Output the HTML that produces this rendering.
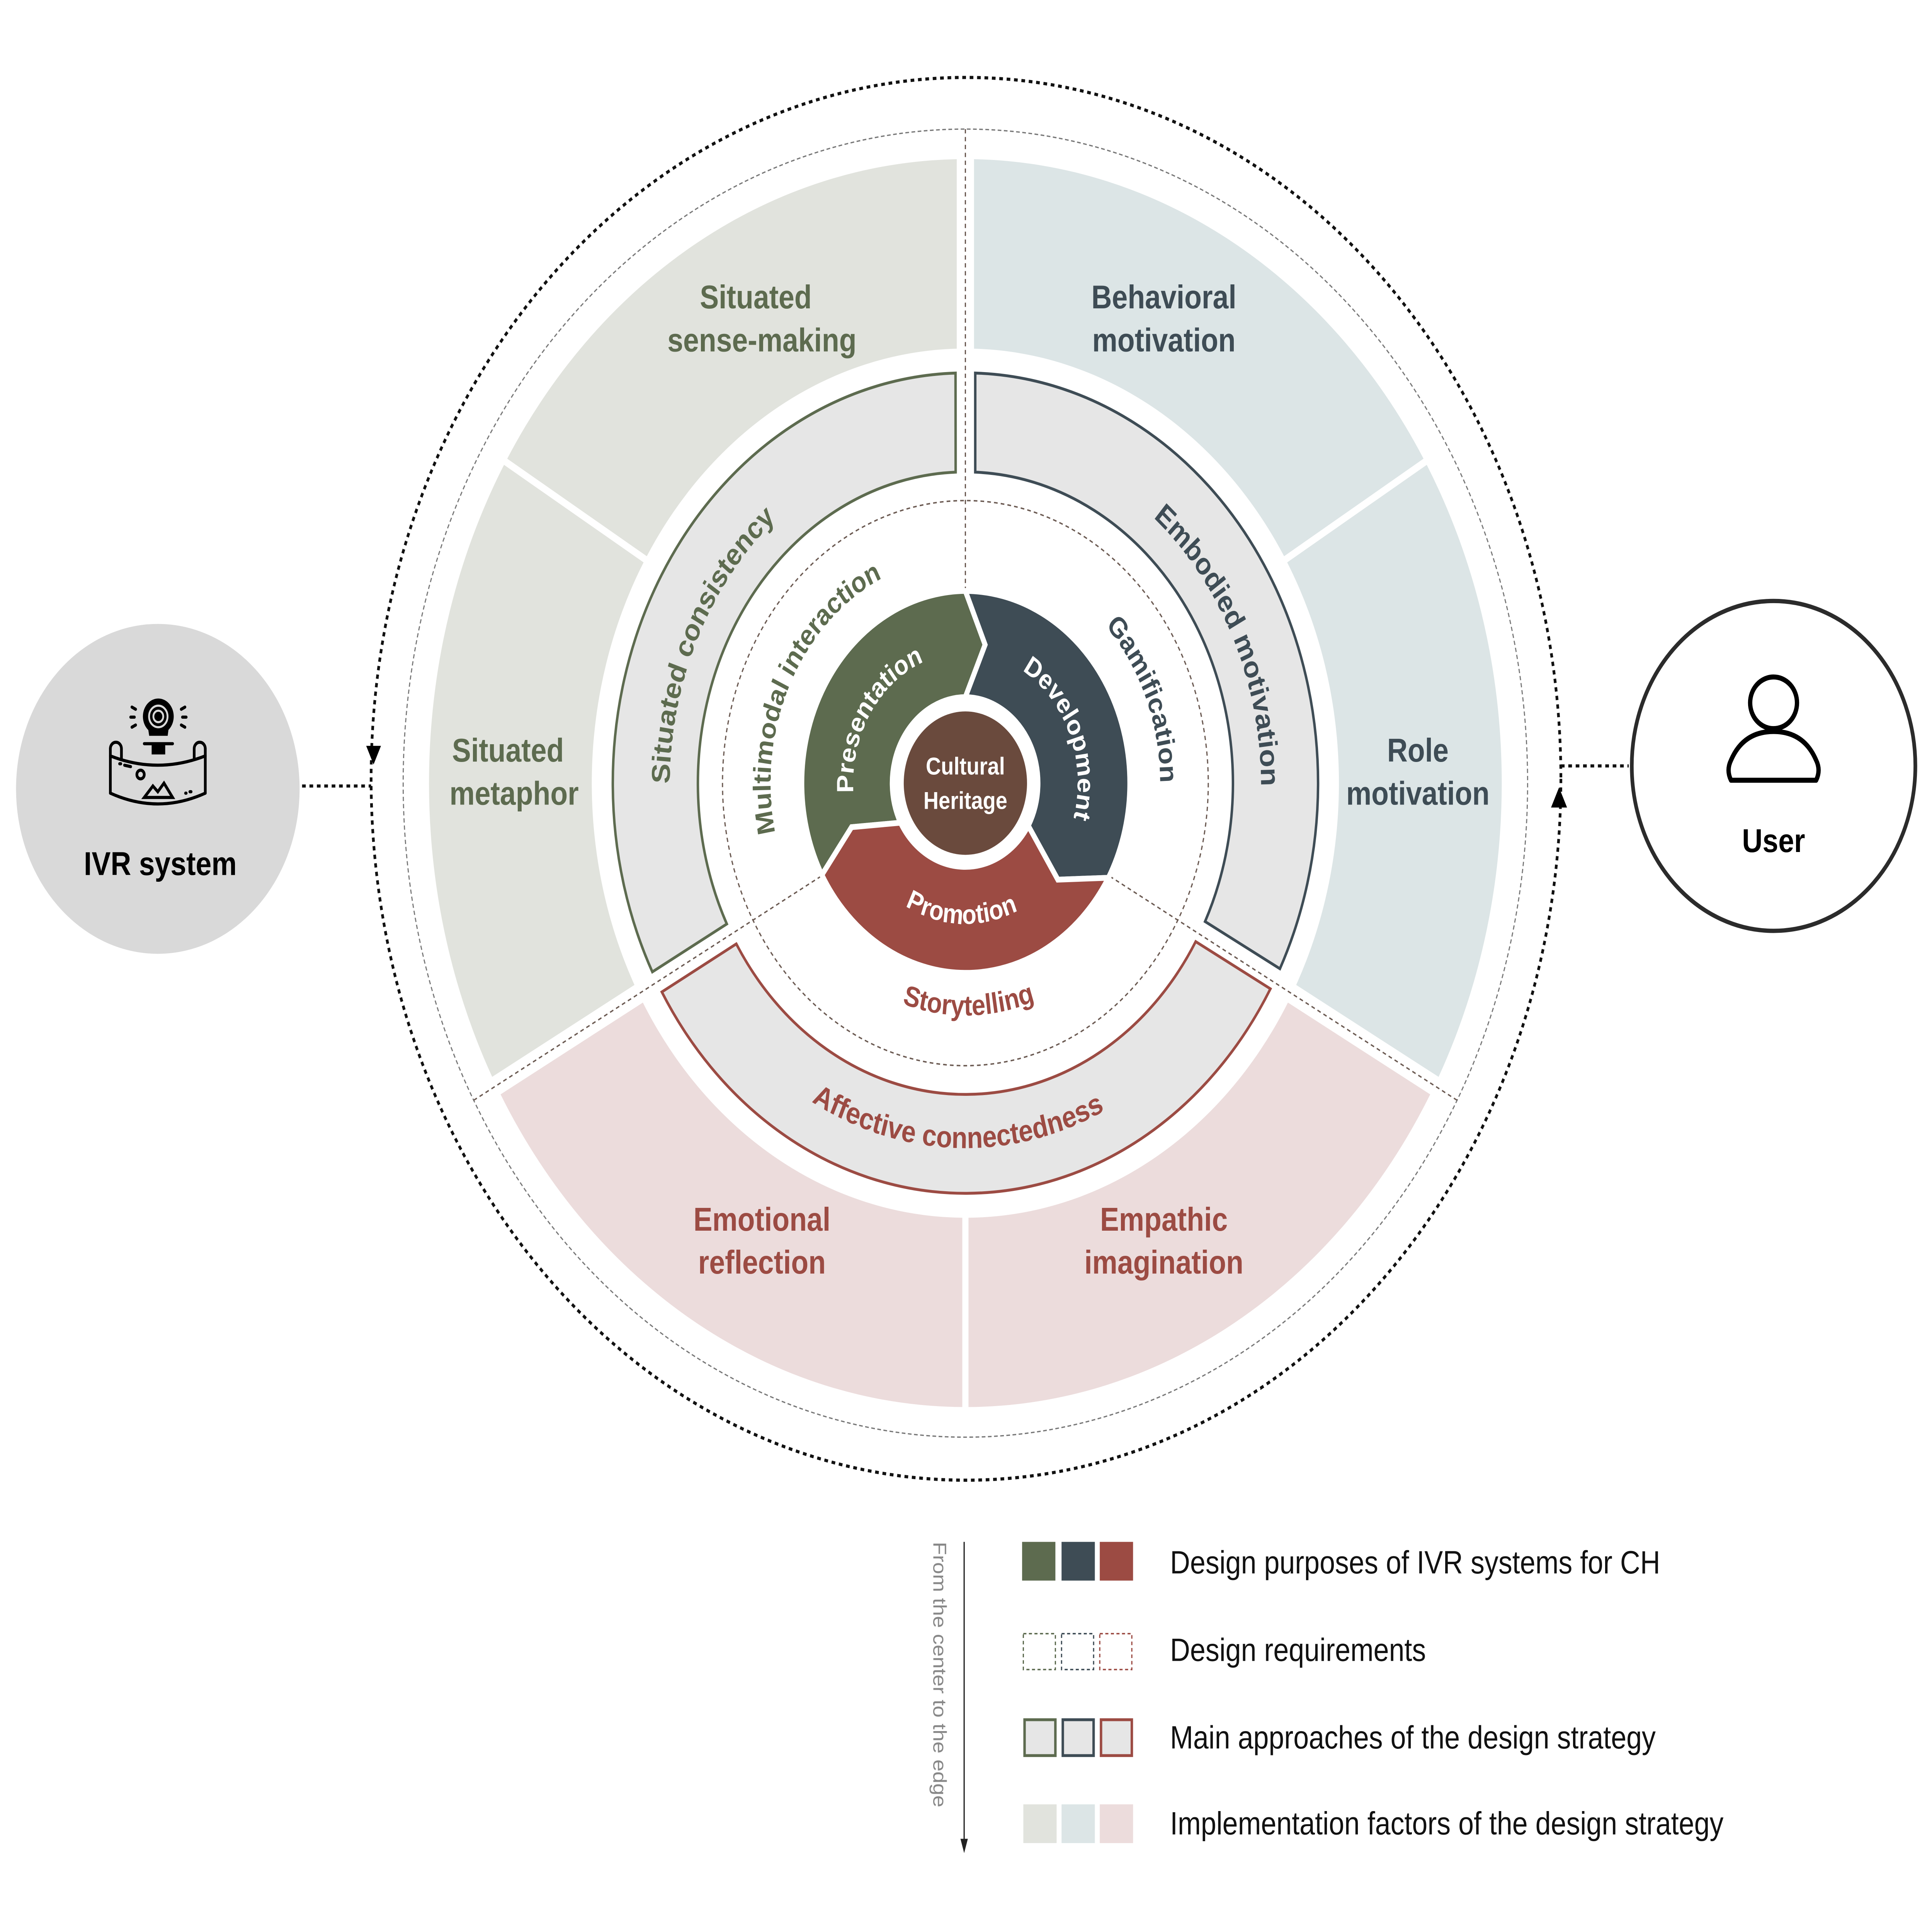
<!DOCTYPE html>
<html><head><meta charset="utf-8"><style>
html,body{margin:0;padding:0;background:#fff;width:100%;height:100%;overflow:hidden;}
svg{display:block;width:100vw;height:100vh;}
text{font-family:"Liberation Sans",sans-serif;}
</style></head><body>
<svg viewBox="0 0 1567 1347" preserveAspectRatio="none" xmlns="http://www.w3.org/2000/svg">
<rect width="1567" height="1347" fill="#fff"/>
<ellipse cx="783.5" cy="543" rx="482.5" ry="489" fill="none" stroke="#111" stroke-width="2.2" stroke-dasharray="3 3"/>
<circle cx="783" cy="546" r="456" fill="none" stroke="#777" stroke-width="0.9" stroke-dasharray="3 2"/>
<path d="M399.2,750.8 A435 435 0 0 1 408.8,324.1 L522.0,392.1 A303 303 0 0 0 514.6,686.7 Z" fill="#e1e3dd"/>
<path d="M411.4,319.8 A435 435 0 0 1 776,111 L776,243.1 A303 303 0 0 0 524.6,387.8 Z" fill="#e1e3dd"/>
<path d="M790,111 A435 435 0 0 1 1154.6,319.8 L1041.5,387.8 A303 303 0 0 0 790,243.1 Z" fill="#dce5e6"/>
<path d="M1157.2,324.1 A435 435 0 0 1 1166.8,750.8 L1051.3,686.7 A303 303 0 0 0 1044,392.1 Z" fill="#dce5e6"/>
<path d="M1160,763 A435 435 0 0 1 785.5,981 L785.5,849 A303 303 0 0 0 1044.6,699 Z" fill="#ecdcdc"/>
<path d="M780.5,981 A435 435 0 0 1 406,763 L521.4,699 A303 303 0 0 0 780.5,849 Z" fill="#ecdcdc"/>
<path d="M775,260.1 A286 286 0 0 0 529.1,677.6 L589.5,644.2 A217 217 0 0 1 775.1,329.2 Z" fill="#e6e6e6" stroke="#5d6b4f" stroke-width="2"/>
<path d="M791,260.1 A286 286 0 0 1 1038.1,675.4 L977.4,642.5 A217 217 0 0 0 791,329.2 Z" fill="#e6e6e6" stroke="#3e4c55" stroke-width="2"/>
<path d="M1030.4,689.4 A286 286 0 0 1 536.8,691.6 L597.2,658.1 A217 217 0 0 0 969.8,656.5 Z" fill="#e6e6e6" stroke="#9c4b43" stroke-width="2"/>
<circle cx="783" cy="546" r="215" fill="#fff"/>
<circle cx="783" cy="546" r="197" fill="none" stroke="#6b5a52" stroke-width="1" stroke-dasharray="3 2.5"/>
<g stroke="#6b5a52" stroke-width="1" stroke-dasharray="3 2.5">
<line x1="783" y1="412" x2="783" y2="90"/>
<line x1="665.8" y1="611" x2="384.2" y2="767.1"/>
<line x1="900.2" y1="611" x2="1181.8" y2="767.1"/>
</g>
<g stroke="#fff" stroke-width="4" stroke-linejoin="miter">
<path d="M783,412 L799,449.5 L783,486 A60 60 0 0 0 730.4,573.6 L690.7,576.7 L666.6,610 A134 134 0 0 1 783,412 Z" fill="#5d6b4f"/>
<path d="M783,412 A134 134 0 0 1 899,612 L858,613.3 L834,575.7 A60 60 0 0 0 783,486 L799,449.5 Z" fill="#3e4c55"/>
<path d="M834,575.7 L858,613.3 L899,612 A134 134 0 0 1 666.6,610 L690.7,576.7 L730.4,573.6 A60 60 0 0 0 834,575.7 Z" fill="#9c4b43"/>
</g>
<circle cx="783" cy="546" r="58" fill="#fff"/>
<circle cx="783" cy="546" r="50" fill="#6a4a3d"/>
<text x="783" y="540" font-size="17" font-weight="bold" fill="#fff" text-anchor="middle">Cultural</text>
<text x="783" y="564" font-size="17" font-weight="bold" fill="#fff" text-anchor="middle">Heritage</text>
<defs>
<path id="p1" d="M679.9,767.1 A244 244 0 0 1 886.1,324.9"/>
<path id="p2" d="M679.9,324.9 A244 244 0 0 1 886.1,767.1"/>
<path id="p3" d="M526.1,539.3 A257 257 0 0 0 1039.9,552.7"/>
<path id="p4" d="M713.7,688 A158 158 0 0 1 852.3,404"/>
<path id="p5" d="M723.8,399.5 A158 158 0 0 1 842.2,692.5"/>
<path id="p6" d="M621,548.8 A162 162 0 0 0 945,543.2"/>
<path id="p7" d="M734.8,623.2 A91 91 0 0 1 831.2,468.8"/>
<path id="p8" d="M748.9,461.6 A91 91 0 0 1 817.1,630.4"/>
<path id="p9" d="M682.1,542.5 A101 101 0 0 0 883.9,549.5"/>
</defs>
<g font-weight="bold" text-anchor="middle">
<text font-size="21" fill="#5d6b4f"><textPath href="#p1" startOffset="50%">Situated  consistency</textPath></text>
<text font-size="21" fill="#3e4c55"><textPath href="#p2" startOffset="50%">Embodied  motivation</textPath></text>
<text font-size="21" fill="#9c4b43"><textPath href="#p3" startOffset="50%">Affective connectedness</textPath></text>
<text font-size="20" fill="#5d6b4f"><textPath href="#p4" startOffset="50%">Multimodal interaction</textPath></text>
<text font-size="20" fill="#3e4c55"><textPath href="#p5" startOffset="50%">Gamification</textPath></text>
<text font-size="20" fill="#9c4b43"><textPath href="#p6" startOffset="50%">Storytelling</textPath></text>
<text font-size="19" fill="#fff"><textPath href="#p7" startOffset="50%">Presentation</textPath></text>
<text font-size="19" fill="#fff"><textPath href="#p8" startOffset="50%">Development</textPath></text>
<text font-size="19" fill="#fff"><textPath href="#p9" startOffset="50%">Promotion</textPath></text>
</g>
<g font-size="23" font-weight="bold" text-anchor="middle">
<text x="613" y="215" fill="#5d6b4f">Situated</text>
<text x="618" y="245" fill="#5d6b4f">sense-making</text>
<text x="944" y="215" fill="#3e4c55">Behavioral</text>
<text x="944" y="245" fill="#3e4c55">motivation</text>
<text x="412" y="531" fill="#5d6b4f">Situated</text>
<text x="417" y="561" fill="#5d6b4f">metaphor</text>
<text x="1150" y="531" fill="#3e4c55">Role</text>
<text x="1150" y="561" fill="#3e4c55">motivation</text>
<text x="618" y="858" fill="#9c4b43">Emotional</text>
<text x="618" y="888" fill="#9c4b43">reflection</text>
<text x="944" y="858" fill="#9c4b43">Empathic</text>
<text x="944" y="888" fill="#9c4b43">imagination</text>
</g>
<circle cx="128" cy="550" r="115" fill="#d9d9d9"/>
<g fill="none" stroke="#000" stroke-width="2.2" stroke-linecap="round">
<circle cx="128.4" cy="499.5" r="12.5" fill="#000" stroke="none"/>
<path d="M119.6,505 L121,513 L136,513 L137.2,505 Z" fill="#000" stroke="none"/>
<circle cx="128.4" cy="499.5" r="7.5" stroke="#d9d9d9" stroke-width="1.5"/>
<circle cx="128.4" cy="499.5" r="4" stroke="#d9d9d9" stroke-width="1.5"/>
<line x1="117" y1="518.5" x2="140" y2="518.5"/>
<rect x="123" y="519" width="11" height="7" fill="#000" stroke="none"/>
<line x1="107" y1="493" x2="110" y2="494.5"/><line x1="106" y1="500" x2="109" y2="500"/><line x1="107" y1="507" x2="110" y2="505.5"/>
<line x1="150" y1="493" x2="147" y2="494.5"/><line x1="151" y1="500" x2="148" y2="500"/><line x1="150" y1="507" x2="147" y2="505.5"/>
<path d="M89.5,527 Q128,540 166.5,527"/>
<path d="M89.5,553 Q128,568 166.5,553"/>
<path d="M89.5,522 L89.5,553"/><path d="M166.5,522 L166.5,553"/>
<path d="M89.5,522 A4.5 4.5 0 0 1 98.5,522 L98.5,529"/>
<path d="M166.5,522 A4.5 4.5 0 0 0 157.5,522 L157.5,529"/>
<circle cx="114" cy="540" r="3"/>
<path d="M117,556 L124,548 L128,552 L133,546 L140,556 Z"/>
<line x1="97" y1="532.5" x2="98" y2="532.5"/><line x1="101" y1="533.5" x2="106" y2="534.5"/>
<line x1="150.5" y1="553" x2="151" y2="553"/><line x1="154" y1="552" x2="155" y2="552"/>
</g>
<text x="130" y="610" font-size="23" font-weight="bold" fill="#000" text-anchor="middle">IVR system</text>
<circle cx="1438.5" cy="534" r="115" fill="#fff" stroke="#2b2b2b" stroke-width="3"/>
<ellipse cx="1438.5" cy="490" rx="19" ry="18" fill="none" stroke="#000" stroke-width="3.5"/>
<path d="M1404,544 Q1400,537 1404,530 Q1414,510 1438.5,510 Q1463,510 1473,530 Q1477,537 1473,544 Z" fill="none" stroke="#000" stroke-width="3.5" stroke-linejoin="round"/>
<text x="1438.5" y="594" font-size="23" font-weight="bold" fill="#000" text-anchor="middle">User</text>
<g stroke="#111" stroke-width="2.2" stroke-dasharray="3 3" fill="none">
<line x1="245" y1="548" x2="301" y2="548"/>
<line x1="1266" y1="534" x2="1321" y2="534"/>
</g>
<path d="M297,520 L309,520 L303,533 Z" fill="#000"/>
<path d="M1258,563 L1271,563 L1264.5,549 Z" fill="#000"/>
<line x1="782" y1="1075" x2="782" y2="1287" stroke="#222" stroke-width="1"/>
<path d="M779,1282 L785,1282 L782,1292 Z" fill="#222"/>
<text transform="translate(757,1075) rotate(90)" font-size="15" fill="#888">From the center to the edge</text>
<rect x="829" y="1075" width="27" height="27" fill="#5d6b4f"/>
<rect x="861" y="1075" width="27" height="27" fill="#3e4c55"/>
<rect x="892" y="1075" width="27" height="27" fill="#9c4b43"/>
<g fill="none" stroke-width="1" stroke-dasharray="2.5 2">
<rect x="830" y="1139" width="26" height="25" stroke="#5d6b4f"/>
<rect x="861" y="1139" width="26" height="25" stroke="#3e4c55"/>
<rect x="892" y="1139" width="26" height="25" stroke="#9c4b43"/>
</g>
<g fill="#e6e6e6" stroke-width="2">
<rect x="831" y="1199" width="25" height="25" stroke="#5d6b4f"/>
<rect x="862" y="1199" width="25" height="25" stroke="#3e4c55"/>
<rect x="893" y="1199" width="25" height="25" stroke="#9c4b43"/>
</g>
<rect x="830" y="1258" width="27" height="27" fill="#e1e3dd"/>
<rect x="861" y="1258" width="27" height="27" fill="#dce5e6"/>
<rect x="892" y="1258" width="27" height="27" fill="#ecdcdc"/>
<g font-size="22.5" fill="#111">
<text x="949" y="1097">Design purposes of IVR systems for CH</text>
<text x="949" y="1158">Design requirements</text>
<text x="949" y="1219">Main approaches of the design strategy</text>
<text x="949" y="1279">Implementation factors of the design strategy</text>
</g>
</svg>
</body></html>
